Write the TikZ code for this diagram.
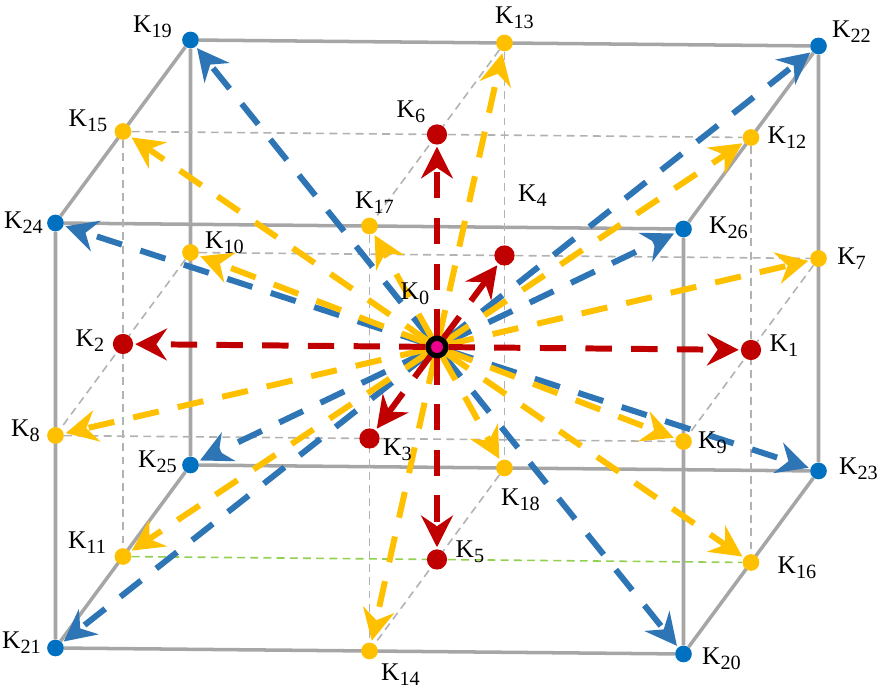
\documentclass[tikz,border=0pt]{standalone}
\usepackage{fontspec}
\setmainfont{Liberation Serif}
\usetikzlibrary{arrows.meta}
\definecolor{dblue}{RGB}{0,112,192}
\definecolor{ablue}{RGB}{46,117,182}
\definecolor{kyel}{RGB}{255,192,0}
\definecolor{kred}{RGB}{192,0,0}
\definecolor{egray}{RGB}{166,166,166}
\definecolor{lgray}{RGB}{178,178,178}
\definecolor{lgreen}{RGB}{146,208,80}
\newcommand{\kk}[1]{K\raisebox{-0.45ex}{\fontsize{11.5}{12}\selectfont #1}}
\pgfdeclarelayer{bg}
\pgfsetlayers{bg,main}
\tikzset{mn/.append style={circle,inner sep=0pt,minimum size=9.5pt}}
\tikzset{kb/.append style={mn,fill=dblue}}
\tikzset{ky/.append style={mn,fill=kyel}}
\tikzset{kr/.append style={mn,fill=kred,minimum size=11.5pt}}
\tikzset{kc/.append style={circle,inner sep=0pt,minimum size=10pt,draw=black,line width=3pt,fill=magenta}}
\tikzset{lb/.style n args={3}{label={[font=\fontsize{14.5}{16}\selectfont,inner sep=0pt,xshift=#1cm,yshift=#2cm]center:\kk{#3}}}}
\tikzset{ed/.append style={draw=egray,line width=2pt}}
\tikzset{gl/.append style={draw=lgray,line width=0.9pt,dash pattern=on 4.5pt off 3pt}}
\tikzset{ar/.append style={line width=3.4pt,dash pattern=on 15pt off 11pt,shorten >=1pt,-{Stealth[length=18pt,width=18pt,inset=6pt]}}}

\begin{document}
\begin{tikzpicture}[x={(6.28cm,-0.06cm)},y={(0cm,4.25cm)},z={(1.35cm,1.83cm)}]
                \useasboundingbox (-8.74cm,-6.98cm) rectangle (8.98cm,6.94cm);
                % centre
                \node[kc,lb={-0.44}{1.06}{0}] (k0) at (0,0,0) {};
                % face centres
                \node[kr,lb={0.66}{0.08}{1}] (k1) at (1,0,0) {};
                \node[kr,lb={-0.66}{0.06}{2}] (k2) at (-1,0,0) {};
                \node[kr,lb={0.56}{-0.22}{3}] (k3) at (0,0,-1) {};
                \node[kr,lb={0.56}{1.20}{4}] (k4) at (0,0,1) {};
                \node[kr,lb={0.66}{0.16}{5}] (k5) at (0,-1,0) {};
                \node[kr,lb={-0.52}{0.46}{6}] (k6) at (0,1,0) {};
                % edge centres
                \node[ky,lb={0.66}{0}{7}] (k7) at (1,0,1) {};
                \node[ky,lb={-0.60}{0.10}{8}] (k8) at (-1,0,-1) {};
                \node[ky,lb={0.58}{-0.02}{9}] (k9) at (1,0,-1) {};
                \node[ky,lb={0.68}{0.20}{10}] (k10) at (-1,0,1) {};
                \node[ky,lb={-0.72}{0.28}{11}] (k11) at (-1,-1,0) {};
                \node[ky,lb={0.72}{0}{12}] (k12) at (1,1,0) {};
                \node[ky,lb={0.20}{0.50}{13}] (k13) at (0,1,1) {};
                \node[ky,lb={0.62}{-0.48}{14}] (k14) at (0,-1,-1) {};
                \node[ky,lb={-0.70}{0.22}{15}] (k15) at (-1,1,0) {};
                \node[ky,lb={0.92}{-0.10}{16}] (k16) at (1,-1,0) {};
                \node[ky,lb={0.10}{0.46}{17}] (k17) at (0,1,-1) {};
                \node[ky,lb={0.32}{-0.64}{18}] (k18) at (0,-1,1) {};
                % corners
                \node[kb,lb={-0.76}{0.26}{19}] (k19) at (-1,1,1) {};
                \node[kb,lb={0.76}{-0.10}{20}] (k20) at (1,-1,-1) {};
                \node[kb,lb={-0.68}{0.10}{21}] (k21) at (-1,-1,-1) {};
                \node[kb,lb={0.66}{0.28}{22}] (k22) at (1,1,1) {};
                \node[kb,lb={0.80}{0.04}{23}] (k23) at (1,-1,1) {};
                \node[kb,lb={-0.64}{0}{24}] (k24) at (-1,1,-1) {};
                \node[kb,lb={-0.66}{0.06}{25}] (k25) at (-1,-1,1) {};
                \node[kb,lb={0.90}{0.02}{26}] (k26) at (1,1,-1) {};
                \begin{pgfonlayer}{bg}
                % cube
                \draw[ed] (k19) -- (k22) -- (k23) -- (k25) -- (k19);
                \draw[ed] (k24) -- (k26) -- (k20) -- (k21) -- (k24);
                \draw[ed] (k19) -- (k24);
                \draw[ed] (k22) -- (k26);
                \draw[ed] (k23) -- (k20);
                \draw[ed] (k25) -- (k21);
                % inner lines
                \draw[gl] (k15) -- (k12);
                \draw[gl] (k13) -- (k17);
                \draw[gl] (k10) -- (k7);
                \draw[gl] (k8) -- (k9);
                \draw[gl] (k15) -- (k11);
                \draw[gl] (k12) -- (k16);
                \draw[gl] (k17) -- (k14);
                \draw[gl] (k13) -- (k18);
                \draw[gl] (k10) -- (k8);
                \draw[gl] (k7) -- (k9);
                \draw[gl] (k18) -- (k14);
                \draw[gl,draw=lgreen] (k11) -- (k16);
                % corner arrows
                \draw[ar,ablue] (k0) -- (k19);
                \draw[ar,ablue] (k0) -- (k20);
                \draw[ar,ablue] (k0) -- (k21);
                \draw[ar,ablue] (k0) -- (k22);
                \draw[ar,ablue] (k0) -- (k23);
                \draw[ar,ablue] (k0) -- (k24);
                \draw[ar,ablue] (k0) -- (k25);
                \draw[ar,ablue] (k0) -- (k26);
                % edge arrows
                \draw[ar,kyel] (k0) -- (k7);
                \draw[ar,kyel] (k0) -- (k8);
                \draw[ar,kyel] (k0) -- (k9);
                \draw[ar,kyel] (k0) -- (k10);
                \draw[ar,kyel] (k0) -- (k11);
                \draw[ar,kyel] (k0) -- (k12);
                \draw[ar,kyel] (k0) -- (k13);
                \draw[ar,kyel] (k0) -- (k14);
                \draw[ar,kyel] (k0) -- (k15);
                \draw[ar,kyel] (k0) -- (k16);
                \draw[ar,kyel] (k0) -- (k17);
                \draw[ar,kyel] (k0) -- (k18);
                % face arrows
                \draw[ar,kred] (k0) -- (k1);
                \draw[ar,kred] (k0) -- (k2);
                \draw[ar,kred] (k0) -- (k3);
                \draw[ar,kred] (k0) -- (k4);
                \draw[ar,kred] (k0) -- (k5);
                \draw[ar,kred] (k0) -- (k6);
                \end{pgfonlayer}
            \end{tikzpicture}
\end{document}
